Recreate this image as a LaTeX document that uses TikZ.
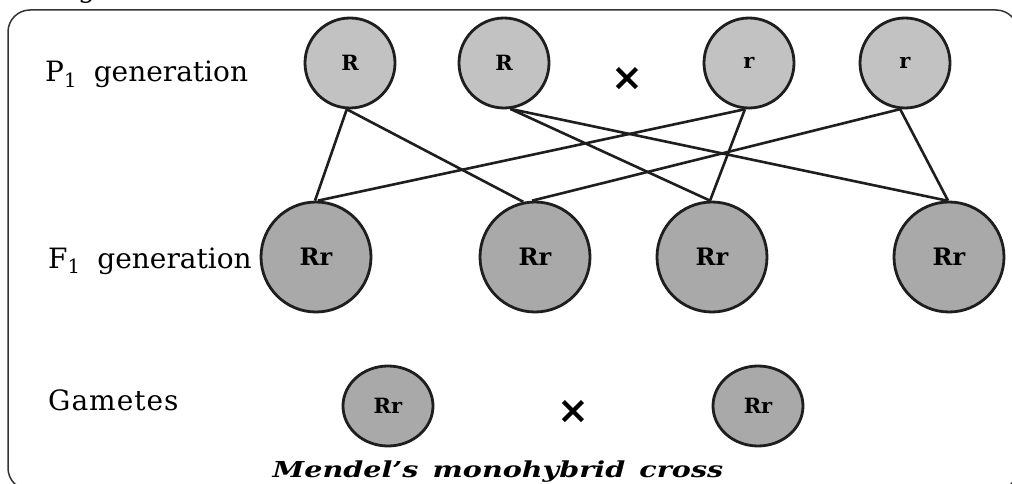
\documentclass[tikz,border=0pt]{standalone}
\usepackage{fontspec}
\setmainfont{DejaVu Serif}
\newfontfamily\symfont{DejaVu Sans}
\usetikzlibrary{shapes.geometric}
\definecolor{pone}{HTML}{C2C2C2}
\definecolor{fone}{HTML}{A9A9A9}
\definecolor{edgec}{HTML}{1E1E1E}
\definecolor{framec}{HTML}{333333}
\tikzset{
  pcircle/.style={circle, draw=edgec, line width=2.8pt, fill=pone, minimum size=90pt, inner sep=0pt,
    font=\fontsize{21}{21}\selectfont\bfseries},
  fcircle/.style={circle, draw=edgec, line width=2.8pt, fill=fone, minimum size=110pt, inner sep=0pt,
    font=\fontsize{24}{24}\selectfont\bfseries},
  gcircle/.style={ellipse, draw=edgec, line width=2.8pt, fill=fone, minimum width=90pt, minimum height=80pt, inner sep=0pt,
    font=\fontsize{21}{21}\selectfont\bfseries},
  link/.style={draw=edgec, line width=2.6pt},
  rowlabel/.style={anchor=base west, inner sep=0pt, font=\fontsize{28}{28}\selectfont},
  crossmark/.style={inner sep=0pt, font=\symfont\bfseries\fontsize{38}{38}\selectfont},
  framebox/.style={draw=framec, line width=1.5pt, rounded corners=22pt},
  caption/.style={anchor=base, inner sep=0pt, font=\fontsize{22}{22}\selectfont\bfseries\itshape}
}
\begin{document}
\begin{tikzpicture}[x=1pt, y=-1pt]
  \clip (0,0) rectangle (1012,484);
  \fill[white] (0,0) rectangle (1012,484);
  \draw[framebox] (8,10) rectangle (1018,490);
  \node[anchor=base west, inner sep=0pt, font=\fontsize{27}{27}\selectfont] (topg) at (78,-2) {g};

  % row labels
  \node[rowlabel] (lp) at (45,82) {P\textsubscript{1}\hspace{0.6em}generation};
  \node[rowlabel] (lf) at (48,268) {F\textsubscript{1}\hspace{0.6em}generation};
  \node[rowlabel] (lg) at (48,410) {G\kern1pt a\kern1pt m\kern1pt e\kern1pt t\kern1pt e\kern1pt s};

  % P1 generation
  \node[pcircle] (p1) at (350,63) {R};
  \node[pcircle] (p2) at (504,63) {R};
  \node[pcircle] (p3) at (749,63) {r};
  \node[pcircle] (p4) at (905,63) {r};
  \node[crossmark] (x1) at (627,79) {×};

  % F1 generation
  \node[fcircle] (f1) at (316,257) {Rr};
  \node[fcircle] (f2) at (535,257) {Rr};
  \node[fcircle] (f3) at (712,257) {Rr};
  \node[fcircle] (f4) at (949,257) {Rr};

  % gametes
  \node[gcircle] (g1) at (388,406) {Rr};
  \node[gcircle] (g2) at (758,406) {Rr};
  \node[crossmark] (x2) at (573,412) {×};

  % connectors
  \draw[link] (p1.266) -- (f1.91);
  \draw[link] (p1.266) -- (f2.102);
  \draw[link] (p2.278) -- (f3.92);
  \draw[link] (p2.278) -- (f4.92);
  \draw[link] (p3.265) -- (f1.88);
  \draw[link] (p3.265) -- (f3.92);
  \draw[link] (p4.264) -- (f2.93);
  \draw[link] (p4.264) -- (f4.91);

  % caption
  \node[caption] (cap) at (498,477) {\scalebox{1.3}[1]{Mendel’s\hspace{0.15em} monohybrid\hspace{0.15em} cross}};
\end{tikzpicture}
\end{document}
